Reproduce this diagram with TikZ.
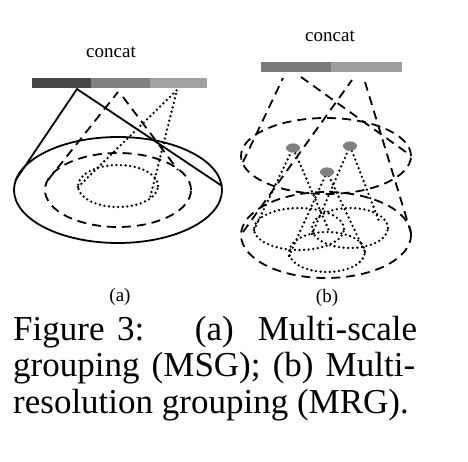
\documentclass[tikz,border=0pt]{standalone}
\usepackage{fontspec}
\setmainfont{Liberation Serif}
\usepackage{tikz}

\tikzset{
  solidline/.style={line width=1.8pt,color=black},
  dashline/.style={line width=1.8pt,color=black,dash pattern=on 9pt off 6pt},
  dotline/.style={line width=2.6pt,color=black,line cap=round,dash pattern=on 0pt off 4.6pt},
  smalltext/.style={inner sep=0pt,font=\fontsize{19}{21}\selectfont},
  captext/.style={inner sep=0pt,anchor=base west,font=\fontsize{35}{37}\selectfont}
}

\begin{document}
\begin{tikzpicture}[x=1pt,y=-1pt]
      \useasboundingbox (0,0) rectangle (468,462);
      % (a) multi-scale grouping
      \node[smalltext] (concatA) at (111,52) {concat};
      \fill[color=black!72] (32,78) rectangle (91,88);
      \fill[color=black!50] (91,78) rectangle (150,88);
      \fill[color=black!37] (150,78) rectangle (207,88);
      \draw[solidline] (118,190) ellipse [x radius=104pt,y radius=53pt];
      \draw[dashline] (118,190) ellipse [x radius=73pt,y radius=37pt];
      \draw[dotline] (118,186) ellipse [x radius=40pt,y radius=21pt];
      \draw[solidline] (15,181) -- (77,89) -- (222,186);
      \draw[dashline] (48,180) -- (118,92);
      \draw[dashline] (123,97) -- (178,170);
      \draw[dotline] (78,187) -- (177,90) -- (150,198);
      \node[smalltext] (labelA) at (120,297) {(a)};
      % (b) multi-resolution grouping
      \node[smalltext] (concatB) at (330,36) {concat};
      \fill[color=black!52] (261,62) rectangle (331,72);
      \fill[color=black!38] (331,62) rectangle (402,72);
      \draw[dashline] (326,156) ellipse [x radius=85pt,y radius=38pt];
      \draw[dashline] (326,235) ellipse [x radius=85pt,y radius=43pt];
      \draw[dashline] (243,162) -- (283,78);
      \draw[dashline] (301,77) -- (410,155);
      \draw[dashline] (243,232) -- (352,80);
      \draw[dashline] (365,82) -- (411,233);
      \draw[dotline] (299,229) ellipse [x radius=45pt,y radius=21pt];
      \draw[dotline] (350,228) ellipse [x radius=38pt,y radius=20pt];
      \draw[dotline] (327,252) ellipse [x radius=38pt,y radius=20pt];
      \draw[dotline] (254,230) -- (293,148) -- (330,233);
      \draw[dotline] (312,234) -- (350,146) -- (379,221);
      \draw[dotline] (289,256) -- (327,172) -- (365,252);
      \fill[color=black!50] (293,148) ellipse [x radius=7pt,y radius=4.6pt];
      \fill[color=black!50] (350,146) ellipse [x radius=7pt,y radius=4.6pt];
      \fill[color=black!50] (327,172) ellipse [x radius=7pt,y radius=4.6pt];
      \node[smalltext] (labelB) at (327,298) {(b)};
      % caption
      \node[captext] (capA) at (13,340) {\makebox[404pt][s]{Figure\hspace{0pt plus 10pt}3:\hspace{0pt plus 40pt}(a)\hspace{0pt plus 19pt}Multi-scale}};
      \node[captext] (capB) at (13,376) {\makebox[402pt][s]{grouping (MSG); (b) Multi-}};
      \node[captext] (capC) at (13,413) {resolution grouping (MRG).};
\end{tikzpicture}
\end{document}
